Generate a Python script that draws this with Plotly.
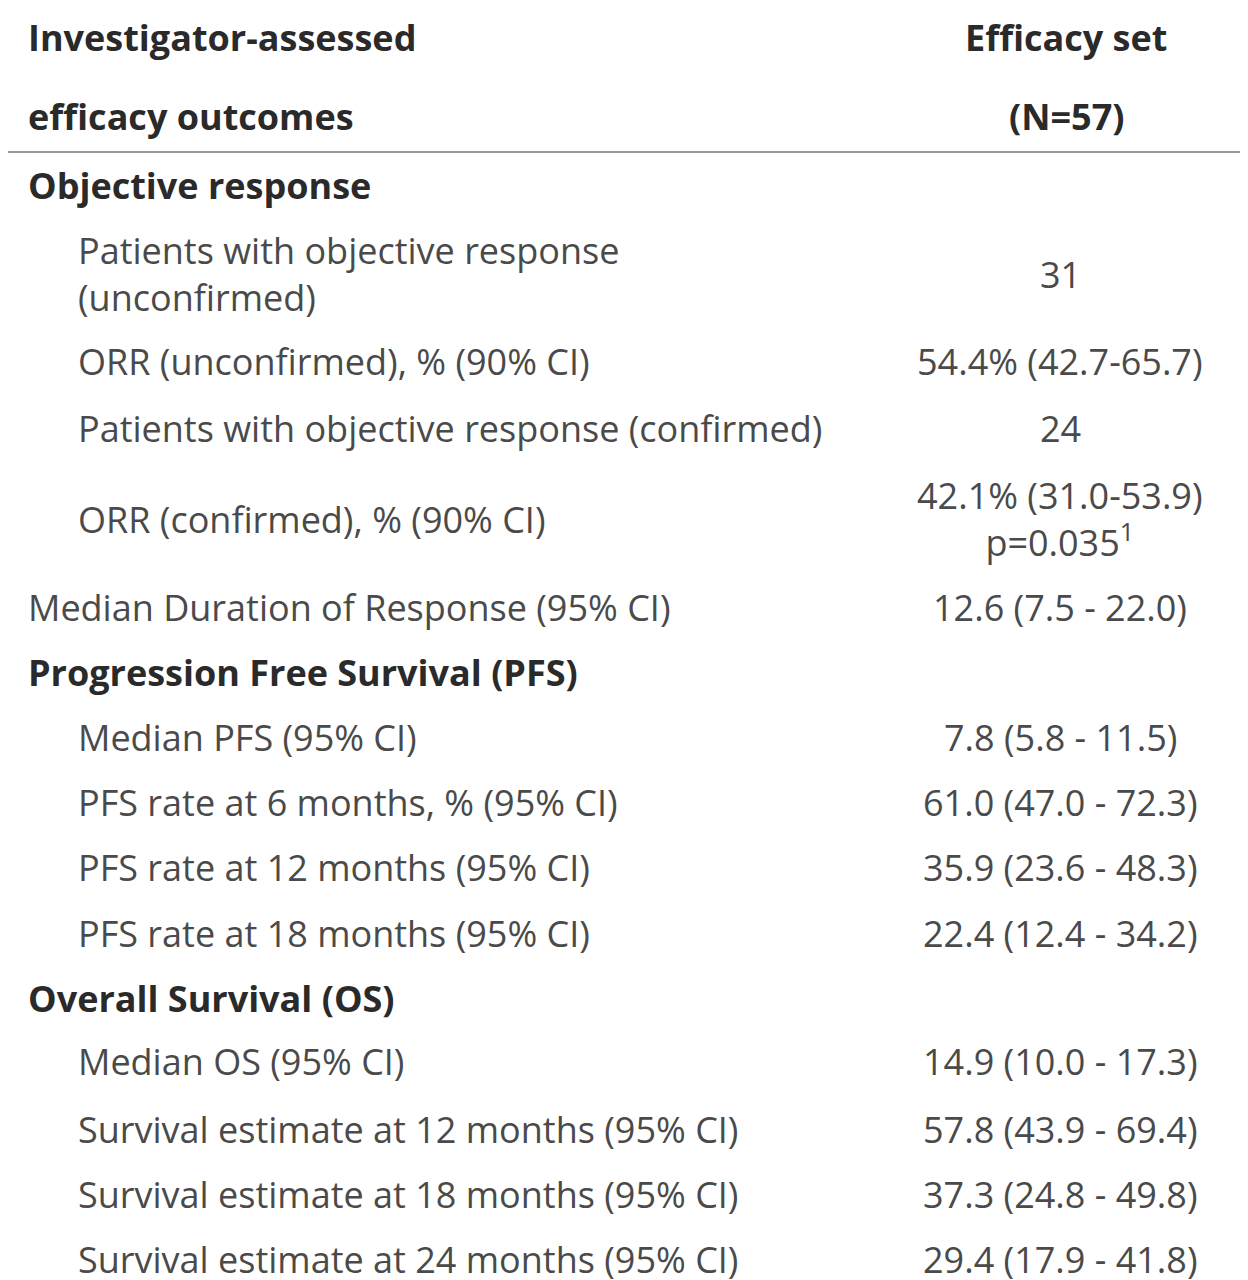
import plotly.graph_objects as go

header_left = ["Investigator-assessed", "efficacy outcomes"]
header_right = ["Efficacy set", "(N=57)"]

labels = [
    "Objective response",
    "Patients with objective response<br>(unconfirmed)",
    "ORR (unconfirmed), % (90% CI)",
    "Patients with objective response (confirmed)",
    "ORR (confirmed), % (90% CI)",
    "Median Duration of Response (95% CI)",
    "Progression Free Survival (PFS)",
    "Median PFS (95% CI)",
    "PFS rate at 6 months, % (95% CI)",
    "PFS rate at 12 months (95% CI)",
    "PFS rate at 18 months (95% CI)",
    "Overall Survival (OS)",
    "Median OS (95% CI)",
    "Survival estimate at 12 months (95% CI)",
    "Survival estimate at 18 months (95% CI)",
    "Survival estimate at 24 months (95% CI)",
]
values = [
    "", "31", "54.4% (42.7-65.7)", "24",
    "42.1% (31.0-53.9)<br>p=0.035<sup>1</sup>",
    "12.6 (7.5 - 22.0)", "",
    "7.8 (5.8 - 11.5)", "61.0 (47.0 - 72.3)", "35.9 (23.6 - 48.3)", "22.4 (12.4 - 34.2)",
    "", "14.9 (10.0 - 17.3)", "57.8 (43.9 - 69.4)", "37.3 (24.8 - 49.8)", "29.4 (17.9 - 41.8)",
]
is_section = [True, False, False, False, False, False, True, False, False, False, False,
              True, False, False, False, False]
is_indented = [False, True, True, True, True, False, False, True, True, True, True,
               False, True, True, True, True]

# layout (pixel rows), page sits offset ~10px so coordinates compensate
DX, DY = -10, -9
row_y = [186, 275, 362, 429, 520, 608, 673, 738, 803, 868, 934, 999, 1062, 1130, 1195, 1260]
header_y = [38, 117]
FS = 36
normal = dict(family="Open Sans", size=FS, color="#4a4a4a")
bold = dict(family="Open Sans", size=FS, color="#2a2a2a", weight="bold")

fig = go.Figure()
ann = []
for t, y in zip(header_left, header_y):
    ann.append(dict(x=28 + DX, y=y + DY, text=t, xanchor="left", font=bold))
for t, y in zip(header_right, header_y):
    ann.append(dict(x=1068 + DX, y=y + DY, text=t, xanchor="center", font=bold))
for lab, val, sec, ind, y in zip(labels, values, is_section, is_indented, row_y):
    ann.append(dict(x=(78 if ind else 28) + DX, y=y + DY, text=lab, xanchor="left",
                    align="left", font=bold if sec else normal))
    if val:
        ann.append(dict(x=1062 + DX, y=y + DY, text=val, xanchor="center",
                        align="center", font=normal))
for a in ann:
    a.update(xref="x", yref="y", yanchor="middle", showarrow=False)

fig.update_layout(
    width=1248, height=1280, margin=dict(l=0, r=0, t=0, b=0),
    plot_bgcolor="white", paper_bgcolor="white", annotations=ann,
    xaxis=dict(range=[0, 1248], visible=False),
    yaxis=dict(range=[1280, 0], visible=False),
    shapes=[
        dict(type="line", xref="x", yref="y", x0=-20, x1=1248, y0=3 + DY, y1=3 + DY,
             line=dict(color="#999", width=2)),
        dict(type="line", xref="x", yref="y", x0=-20, x1=1248, y0=153 + DY, y1=153 + DY,
             line=dict(color="#999", width=2)),
    ],
)
fig.write_html("out.html")
